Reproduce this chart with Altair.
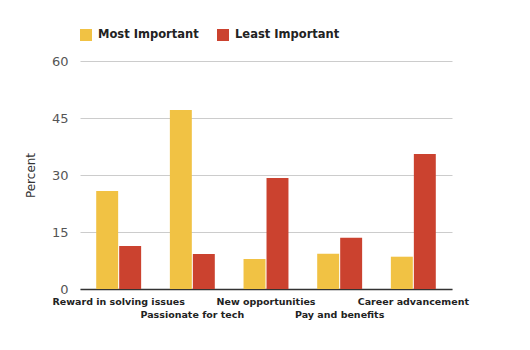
import altair as alt
import pandas as pd

categories = ["Reward in solving issues", "Passionate for tech", "New opportunities",
              "Pay and benefits", "Career advancement"]
series = ["Most Important", "Least Important"]
most_important = [25.8, 47.1, 7.9, 9.3, 8.5]
least_important = [11.3, 9.2, 29.2, 13.5, 35.5]
colors = ["#F1C244", "#CB422F"]

rows = []
for c, m, l in zip(categories, most_important, least_important):
    rows.append({"category": c, "series": series[0], "value": m})
    rows.append({"category": c, "series": series[1], "value": l})
df = pd.DataFrame(rows)

font = "DejaVu Sans"

chart = alt.Chart(df).mark_bar().encode(
    x=alt.X("category:N", sort=categories,
            scale=alt.Scale(paddingInner=0.39, paddingOuter=0.22),
            axis=alt.Axis(title=None, labelAngle=0, ticks=False,
                          domainColor="#333333", domainWidth=1.5,
                          labelFont=font, labelFontSize=9.5, labelFontWeight="bold",
                          labelColor="#222222", labelPadding=7, labelOverlap=False,
                          labelLineHeight=13, labelBaseline="top",
                          labelExpr="round(datum.index*4)%2==1 ? ['', datum.label] : datum.label")),
    xOffset=alt.XOffset("series:N", sort=series, scale=alt.Scale(paddingInner=0.045)),
    y=alt.Y("value:Q", scale=alt.Scale(domain=[0, 60]),
            axis=alt.Axis(title="Percent", values=[0, 15, 30, 45, 60], ticks=False,
                          domain=False, gridColor="#CCCCCC", labelFont=font,
                          labelFontSize=13, labelColor="#555555", labelPadding=12,
                          titleFont=font, titleFontSize=12, titleFontWeight="normal",
                          titleColor="#333333", titlePadding=14)),
    color=alt.Color("series:N", sort=series,
                    scale=alt.Scale(domain=series, range=colors),
                    legend=alt.Legend(title=None, orient="none", legendX=0, legendY=-32,
                                      direction="horizontal", symbolType="square",
                                      symbolSize=144, symbolStrokeWidth=0,
                                      labelFont=font, labelFontSize=11.5,
                                      labelFontWeight="bold", labelColor="#222222",
                                      columnPadding=18, labelOffset=6)),
).properties(
    width=372, height=228,
    autosize=alt.AutoSizeParams(type="none"),
    padding={"left": 80, "top": 61, "right": 78, "bottom": 61},
).configure_view(stroke=None)

chart.save("out.html", embed_options={"renderer": "svg", "actions": False})
